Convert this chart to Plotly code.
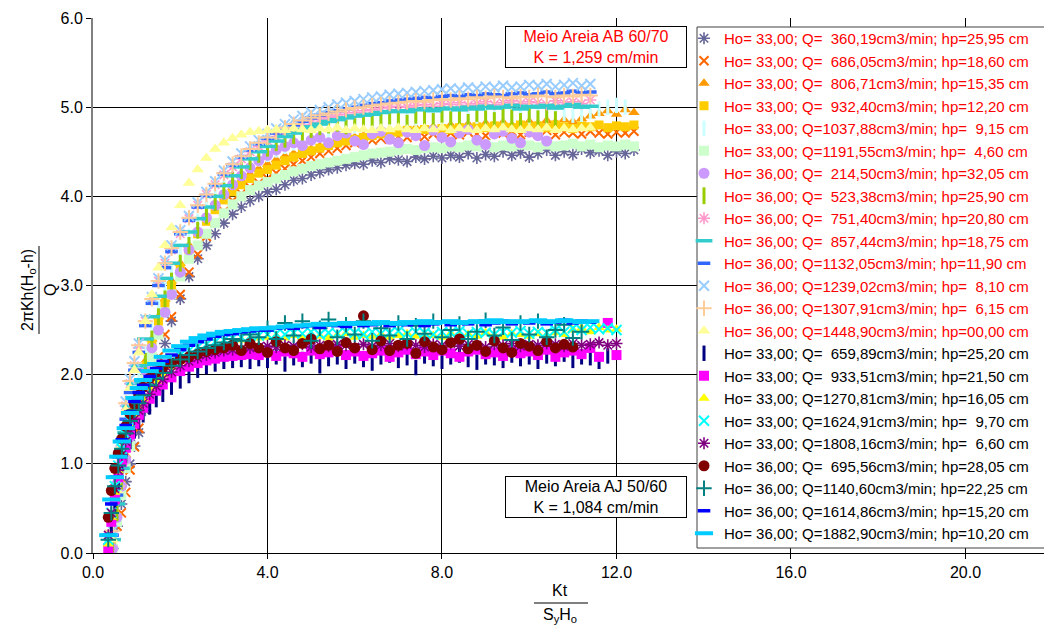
import plotly.graph_objects as go

# ---------------- data ----------------
x_ab = [0.45, 0.55, 0.65, 0.75, 0.85, 0.95, 1.05, 1.2, 1.35, 1.5, 1.65, 1.8, 2.0, 2.2, 2.4, 2.6,
        2.8, 3.0, 3.2, 3.4, 3.6, 3.8, 4.0,
        4.2, 4.4, 4.6, 4.8, 5.0, 5.2, 5.4, 5.6, 5.8, 6.0,
        6.2, 6.4, 6.6, 6.8, 7.0, 7.2, 7.4, 7.6, 7.8, 8.0,
        8.2, 8.4, 8.6, 8.8, 9.0, 9.2, 9.4, 9.6, 9.8, 10.0,
        10.2, 10.4, 10.6, 10.8, 11.0, 11.2, 11.4, 11.6, 11.8, 12.0,
        12.2, 12.4]

y_ab_360 = [0.05, 0.3, 0.55, 0.8, 1.0, 1.2, 1.35, 1.6, 1.85, 2.1, 2.35, 2.6, 2.85, 3.1, 3.3, 3.45,
            3.58, 3.7, 3.8, 3.88, 3.95, 4.0, 4.05,
            4.08, 4.13, 4.18, 4.2, 4.24, 4.27, 4.3, 4.32, 4.35, 4.37,
            4.36, 4.4, 4.38, 4.42, 4.41, 4.39, 4.44, 4.42, 4.45, 4.43,
            4.46, 4.44, 4.48, 4.43, 4.47, 4.45, 4.5, 4.46, 4.49, 4.44,
            4.48, 4.52, 4.46, 4.5, 4.47, 4.53, 4.49, 4.51, 4.46, 4.5,
            4.48, 4.52]
y_ab_686 = [0.1, 0.3, 0.45, 0.68, 0.93, 1.19, 1.4, 1.7, 1.95, 2.2, 2.45, 2.65, 2.9, 3.15, 3.35, 3.55,
            3.7, 3.83, 3.95, 4.03, 4.1, 4.15, 4.2,
            4.26, 4.31, 4.36, 4.4, 4.44, 4.48, 4.51, 4.54, 4.57, 4.6,
            4.62, 4.63, 4.65, 4.64, 4.67, 4.66, 4.69, 4.67, 4.7, 4.68,
            4.71, 4.69, 4.72, 4.7, 4.68, 4.72, 4.71, 4.73, 4.69, 4.72,
            4.7, 4.74, 4.69, 4.72, 4.71, 4.7, 4.73, 4.71, 4.7, 4.72,
            4.71, 4.73]
y_ab_806 = [0.1, 0.45, 0.8, 1.1, 1.4, 1.65, 1.85, 2.15, 2.4, 2.65, 2.85, 3.05, 3.25, 3.45, 3.62, 3.76,
            3.9, 4.01, 4.1, 4.18, 4.25, 4.31, 4.36,
            4.41, 4.45, 4.48, 4.51, 4.53, 4.56, 4.58, 4.61, 4.63, 4.66,
            4.68, 4.69, 4.71, 4.72, 4.74, 4.75, 4.77, 4.76, 4.78, 4.77,
            4.8, 4.79, 4.81, 4.8, 4.82, 4.81, 4.83, 4.8, 4.82, 4.84,
            4.82, 4.85, 4.83, 4.86, 4.84, 4.87, 4.9, 4.93, 4.96, 4.92,
            4.97, 4.94]
y_ab_932 = [0.05, 0.4, 0.75, 1.05, 1.35, 1.6, 1.8, 2.1, 2.35, 2.6, 2.8, 3.0, 3.2, 3.4, 3.58, 3.72,
            3.85, 3.96, 4.05, 4.13, 4.2, 4.26, 4.3,
            4.35, 4.4, 4.44, 4.48, 4.51, 4.54, 4.57, 4.6, 4.62, 4.64,
            4.66, 4.68, 4.7, 4.71, 4.72, 4.74, 4.73, 4.75, 4.74, 4.76,
            4.75, 4.77, 4.76, 4.78, 4.77, 4.79, 4.78, 4.77, 4.8, 4.78,
            4.79, 4.77, 4.8, 4.78, 4.76, 4.79, 4.78, 4.8, 4.77, 4.79,
            4.78, 4.8]
y_ab_1037 = [0.2, 0.55, 0.9, 1.2, 1.5, 1.75, 1.95, 2.25, 2.5, 2.75, 2.95, 3.15, 3.35, 3.55, 3.72, 3.86,
             3.99, 4.1, 4.2, 4.29, 4.36, 4.42, 4.47,
             4.52, 4.56, 4.6, 4.64, 4.67, 4.7, 4.73, 4.75, 4.77, 4.79,
             4.81, 4.82, 4.84, 4.85, 4.86, 4.85, 4.87, 4.88, 4.86, 4.88,
             4.87, 4.89, 4.88, 4.9, 4.89, 4.88, 4.9, 4.91, 4.89, 4.9,
             4.92, 4.9, 4.91, 4.93, 4.91, 4.92, 4.95, 4.98, 5.0, 5.02,
             5.0]
y_ab_1191 = [0.05, 0.35, 0.65, 0.95, 1.2, 1.45, 1.65, 1.95, 2.2, 2.45, 2.7, 2.9, 3.1, 3.3, 3.45, 3.58,
             3.7, 3.81, 3.91, 4.0, 4.07, 4.12, 4.16,
             4.2, 4.24, 4.28, 4.31, 4.34, 4.36, 4.38, 4.4, 4.42, 4.44,
             4.46, 4.48, 4.49, 4.5, 4.52, 4.53, 4.52, 4.54, 4.55, 4.54,
             4.56, 4.55, 4.57, 4.56, 4.58, 4.55, 4.57, 4.56, 4.58, 4.57,
             4.55, 4.58, 4.56, 4.57, 4.59, 4.56, 4.58, 4.55, 4.57, 4.56,
             4.58, 4.56]
y_ab_214 = [0.05, 0.4, 0.75, 1.05, 1.3, 1.55, 1.75, 2.05, 2.3, 2.5, 2.7, 2.9, 3.15, 3.4, 3.6, 3.76,
            3.9, 4.02, 4.13, 4.23, 4.32, 4.4, 4.46,
            4.52, 4.56, 4.6, 4.57, 4.63, 4.66, 4.6, 4.68, 4.71, 4.62,
            4.58, 4.7, 4.73, 4.64, 4.6, 4.72, 4.68, 4.57, 4.74, 4.66,
            4.61, 4.71, 4.75, 4.63, 4.58, 4.7, 4.73, 4.65, 4.6, 4.72,
            4.68, 4.62]
y_ab_523 = [0.1, 0.45, 0.8, 1.1, 1.4, 1.65, 1.85, 2.15, 2.4, 2.65, 2.85, 3.05, 3.25, 3.45, 3.62, 3.78,
            3.93, 4.06, 4.18, 4.29, 4.39, 4.47, 4.54,
            4.6, 4.64, 4.68, 4.72, 4.75, 4.78, 4.8, 4.82, 4.79, 4.85,
            4.83, 4.88, 4.84, 4.9, 4.86, 4.82, 4.91, 4.87, 4.84, 4.92,
            4.86, 4.89, 4.83, 4.93, 4.87, 4.85, 4.91, 4.88, 4.84, 4.92,
            4.87, 4.9, 4.86]
y_ab_751 = [0.2, 0.7, 1.2, 1.65, 1.9, 2.1, 2.3, 2.6, 2.85, 3.05, 3.25, 3.4, 3.58, 3.75, 3.9, 4.02,
            4.13, 4.24, 4.33, 4.42, 4.5, 4.56, 4.62,
            4.67, 4.72, 4.76, 4.8, 4.83, 4.86, 4.88, 4.9, 4.92, 4.94,
            4.96, 4.97, 4.99, 5.0, 5.01, 5.0, 5.02, 5.03, 5.01, 5.04,
            5.03, 5.05, 5.02, 5.04, 5.06, 5.03, 5.05, 5.07, 5.04, 5.06,
            5.05, 5.03, 5.07, 5.05, 5.06, 5.04, 5.08]
y_ab_857 = [0.15, 0.55, 0.95, 1.35, 1.65, 1.9, 2.1, 2.4, 2.65, 2.88, 3.08, 3.25, 3.45, 3.6, 3.75, 3.88,
            4.0, 4.12, 4.23, 4.33, 4.42, 4.5, 4.56,
            4.62, 4.67, 4.71, 4.75, 4.78, 4.81, 4.84, 4.86, 4.88, 4.9,
            4.91, 4.92, 4.94, 4.95, 4.96, 4.95, 4.97, 4.98, 4.96, 4.98,
            4.99, 4.97, 5.0, 4.98, 5.01, 4.99, 5.0, 5.02, 4.98, 5.01,
            5.0, 5.02, 4.99, 5.01, 5.03, 5.0, 5.01]
y_ab_1132 = [0.2, 0.65, 1.1, 1.5, 1.8, 2.05, 2.25, 2.55, 2.8, 3.0, 3.2, 3.38, 3.58, 3.73, 3.88, 4.01,
             4.13, 4.25, 4.35, 4.44, 4.52, 4.59, 4.65,
             4.71, 4.76, 4.8, 4.84, 4.88, 4.91, 4.94, 4.96, 4.98, 5.0,
             5.02, 5.04, 5.05, 5.07, 5.08, 5.09, 5.1, 5.11, 5.1, 5.12,
             5.13, 5.12, 5.14, 5.13, 5.15, 5.14, 5.13, 5.15, 5.16, 5.14,
             5.15, 5.17, 5.15, 5.16, 5.18, 5.16, 5.17]
y_ab_1239 = [0.25, 0.75, 1.25, 1.7, 1.95, 2.15, 2.35, 2.62, 2.87, 3.08, 3.28, 3.45, 3.62, 3.78, 3.93,
             4.05, 4.17, 4.29, 4.39, 4.48, 4.56, 4.63, 4.7,
             4.76, 4.81, 4.86, 4.9, 4.94, 4.97, 5.0, 5.03, 5.05, 5.07,
             5.09, 5.11, 5.12, 5.14, 5.15, 5.16, 5.17, 5.18, 5.19, 5.2,
             5.21, 5.2, 5.22, 5.21, 5.23, 5.22, 5.24, 5.22, 5.23, 5.25,
             5.24, 5.26, 5.23, 5.25, 5.27, 5.24, 5.26]
y_ab_1307 = [0.25, 0.75, 1.25, 1.68, 1.93, 2.13, 2.33, 2.6, 2.85, 3.05, 3.25, 3.42, 3.6, 3.76, 3.9,
             4.02, 4.14, 4.26, 4.36, 4.45, 4.53, 4.6, 4.66,
             4.72, 4.77, 4.81, 4.85, 4.88, 4.91, 4.93, 4.95, 4.97, 4.99,
             5.0, 5.02, 5.03, 5.04, 5.05, 5.06, 5.07, 5.06, 5.08, 5.09,
             5.08, 5.1, 5.09, 5.11, 5.1, 5.12, 5.11, 5.1, 5.12, 5.11,
             5.13, 5.12, 5.11, 5.13, 5.12, 5.14, 5.13]
y_ab_1448 = [0.15, 0.7, 1.2, 1.6, 1.85, 2.05, 2.25, 2.6, 2.9, 3.2, 3.45, 3.65, 3.9, 4.15, 4.3, 4.43,
             4.53, 4.6, 4.65, 4.69, 4.72, 4.73, 4.74,
             4.75, 4.74, 4.76, 4.75, 4.74, 4.76, 4.75, 4.77, 4.74, 4.76,
             4.75, 4.74, 4.76, 4.75, 4.77, 4.75, 4.74, 4.76, 4.75, 4.77,
             4.74, 4.76, 4.75, 4.74, 4.76, 4.75, 4.77, 4.75, 4.74, 4.76,
             4.75, 4.77, 4.74, 4.76, 4.75, 4.76, 4.77]

x_aj = [0.35, 0.42, 0.5, 0.58, 0.66, 0.75, 0.85, 0.95, 1.05, 1.15, 1.3, 1.45, 1.6, 1.8, 2.0, 2.2,
        2.4, 2.6, 2.8, 3.0, 3.2, 3.4, 3.6, 3.8,
        4.0, 4.2, 4.4, 4.6, 4.8, 5.0, 5.2, 5.4, 5.6, 5.8,
        6.0, 6.2, 6.4, 6.6, 6.8, 7.0, 7.2, 7.4, 7.6, 7.8,
        8.0, 8.2, 8.4, 8.6, 8.8, 9.0, 9.2, 9.4, 9.6, 9.8,
        10.0, 10.2, 10.4, 10.6, 10.8, 11.0, 11.2, 11.4, 11.6, 11.8,
        12.0]

y_aj_659 = [0.05, 0.3, 0.55, 0.78, 0.95, 1.1, 1.25, 1.37, 1.47, 1.55, 1.64, 1.72, 1.78, 1.86, 1.93,
            1.99, 2.05, 2.09, 2.12, 2.15, 2.16, 2.17, 2.15, 2.18,
            2.16, 2.2, 2.12, 2.19, 2.17, 2.21, 2.1, 2.18, 2.2, 2.15,
            2.21, 2.17, 2.13, 2.2, 2.22, 2.16, 2.19, 2.08, 2.21, 2.18,
            2.15, 2.2, 2.22, 2.17, 2.14, 2.2, 2.19, 2.16, 2.22, 2.18,
            2.2, 2.15, 2.21, 2.18, 2.23, 2.16, 2.2, 2.19, 2.15, 2.21]
y_aj_933 = [0.05, 0.35, 0.6, 0.85, 1.02, 1.18, 1.33, 1.45, 1.55, 1.63, 1.73, 1.82, 1.89, 1.97, 2.04,
            2.09, 2.13, 2.16, 2.18, 2.2, 2.21, 2.22, 2.23, 2.22,
            2.25, 2.21, 2.26, 2.24, 2.2, 2.27, 2.23, 2.25, 2.28, 2.22,
            2.26, 2.21, 2.24, 2.27, 2.2, 2.25, 2.28, 2.23, 2.26, 2.22,
            2.27, 2.24, 2.2, 2.26, 2.28, 2.23, 2.25, 2.21, 2.27, 2.24,
            2.26, 2.22, 2.28, 2.2, 2.25, 2.27, 2.23, 2.3, 2.2, 2.58,
            2.22]
y_aj_1270 = [0.1, 0.4, 0.68, 0.92, 1.1, 1.27, 1.42, 1.55, 1.65, 1.73, 1.85, 1.93, 2.0, 2.08, 2.15,
             2.2, 2.25, 2.29, 2.32, 2.35, 2.37, 2.39, 2.4, 2.41,
             2.42, 2.43, 2.41, 2.44, 2.42, 2.45, 2.43, 2.41, 2.44, 2.46,
             2.42, 2.44, 2.43, 2.45, 2.42, 2.44, 2.46, 2.43, 2.45, 2.44,
             2.42, 2.46, 2.44, 2.45, 2.43, 2.47, 2.44, 2.42, 2.46, 2.45,
             2.43, 2.46, 2.44, 2.47, 2.45, 2.5, 2.52, 2.48, 2.53, 2.5,
             2.51]
y_aj_1624 = [0.15, 0.45, 0.75, 0.98, 1.17, 1.33, 1.48, 1.6, 1.72, 1.8, 1.92, 2.01, 2.08, 2.16, 2.22,
             2.27, 2.31, 2.34, 2.37, 2.39, 2.41, 2.42, 2.43, 2.44,
             2.45, 2.46, 2.45, 2.47, 2.46, 2.48, 2.45, 2.47, 2.46, 2.48,
             2.47, 2.45, 2.48, 2.46, 2.47, 2.49, 2.46, 2.48, 2.47, 2.45,
             2.48, 2.47, 2.49, 2.46, 2.48, 2.47, 2.45, 2.48, 2.47, 2.49,
             2.46, 2.48, 2.47, 2.5, 2.48, 2.52, 2.5, 2.53, 2.51, 2.52,
             2.5]
y_aj_1808 = [0.2, 0.45, 0.72, 0.93, 1.1, 1.25, 1.38, 1.5, 1.6, 1.68, 1.78, 1.87, 1.95, 2.03, 2.1,
             2.15, 2.19, 2.22, 2.25, 2.27, 2.28, 2.29, 2.3, 2.31,
             2.32, 2.31, 2.33, 2.32, 2.34, 2.31, 2.33, 2.32, 2.34, 2.33,
             2.31, 2.34, 2.32, 2.33, 2.35, 2.32, 2.34, 2.33, 2.31, 2.34,
             2.33, 2.35, 2.32, 2.34, 2.33, 2.31, 2.34, 2.33, 2.35, 2.32,
             2.34, 2.33, 2.35, 2.34, 2.32, 2.35, 2.33, 2.34, 2.36, 2.33,
             2.35]
y_aj_695 = [0.4, 0.7, 0.95, 1.12, 1.28, 1.42, 1.56, 1.67, 1.77, 1.86, 1.96, 2.03, 2.08, 2.13, 2.17,
            2.2, 2.23, 2.26, 2.28, 2.3, 2.33, 2.27, 2.35, 2.3,
            2.25, 2.37, 2.3, 2.27, 2.35, 2.4, 2.29, 2.33, 2.26, 2.36,
            2.3, 2.66, 2.28, 2.38, 2.27, 2.33, 2.35, 2.24, 2.37, 2.31,
            2.28, 2.36, 2.4, 2.29, 2.33, 2.26, 2.38, 2.3, 2.25, 2.35,
            2.32, 2.27, 2.37, 2.3, 2.34, 2.31]
y_aj_1140 = [0.15, 0.45, 0.75, 0.98, 1.17, 1.34, 1.48, 1.6, 1.68, 1.77, 1.88, 1.96, 2.02, 2.1, 2.17,
             2.22, 2.26, 2.3, 2.33, 2.36, 2.4, 2.38, 2.45, 2.42,
             2.52, 2.4, 2.58, 2.44, 2.6, 2.38, 2.52, 2.62, 2.42, 2.56,
             2.45, 2.6, 2.38, 2.52, 2.44, 2.58, 2.4, 2.55, 2.46, 2.6,
             2.42, 2.5, 2.57, 2.4, 2.48, 2.61, 2.44, 2.53, 2.39, 2.58,
             2.45, 2.6, 2.42, 2.5, 2.56, 2.41, 2.48]
y_aj_1614 = [0.2, 0.55, 0.85, 1.08, 1.27, 1.43, 1.58, 1.7, 1.8, 1.88, 1.98, 2.07, 2.15, 2.22, 2.28,
             2.33, 2.37, 2.4, 2.43, 2.45, 2.46, 2.48, 2.49, 2.5,
             2.5, 2.52, 2.53, 2.52, 2.54, 2.55, 2.53, 2.56, 2.55, 2.54,
             2.57, 2.55, 2.56, 2.58, 2.55, 2.57, 2.56, 2.58, 2.55, 2.57,
             2.59, 2.56, 2.58, 2.57, 2.59, 2.56, 2.58, 2.6, 2.57, 2.59,
             2.58, 2.6, 2.57, 2.59, 2.61, 2.58, 2.6, 2.59]
y_aj_1882 = [0.2, 0.6, 0.85, 1.08, 1.25, 1.4, 1.57, 1.74, 1.85, 1.94, 2.04, 2.12, 2.2, 2.27, 2.32,
             2.37, 2.41, 2.44, 2.46, 2.48, 2.49, 2.5, 2.51, 2.52,
             2.52, 2.53, 2.54, 2.55, 2.55, 2.56, 2.57, 2.56, 2.57, 2.58,
             2.57, 2.58, 2.57, 2.59, 2.58, 2.57, 2.59, 2.58, 2.6, 2.58,
             2.59, 2.6, 2.58, 2.59, 2.6, 2.59, 2.61, 2.59, 2.6, 2.59,
             2.6, 2.61, 2.59, 2.6, 2.61, 2.6, 2.59, 2.6]

NB = "\u00a0\u00a0"
labels_ab = [
    "Ho= 33,00; Q=" + NB + "360,19cm3/min; hp=25,95 cm",
    "Ho= 33,00; Q=" + NB + "686,05cm3/min; hp=18,60 cm",
    "Ho= 33,00; Q=" + NB + "806,71cm3/min; hp=15,35 cm",
    "Ho= 33,00; Q=" + NB + "932,40cm3/min; hp=12,20 cm",
    "Ho= 33,00; Q=1037,88cm3/min; hp=" + NB + "9,15 cm",
    "Ho= 33,00; Q=1191,55cm3/min; hp=" + NB + "4,60 cm",
    "Ho= 36,00; Q=" + NB + "214,50cm3/min; hp=32,05 cm",
    "Ho= 36,00; Q=" + NB + "523,38cm3/min; hp=25,90 cm",
    "Ho= 36,00; Q=" + NB + "751,40cm3/min; hp=20,80 cm",
    "Ho= 36,00; Q=" + NB + "857,44cm3/min; hp=18,75 cm",
    "Ho= 36,00; Q=1132,05cm3/min; hp=11,90 cm",
    "Ho= 36,00; Q=1239,02cm3/min; hp=" + NB + "8,10 cm",
    "Ho= 36,00; Q=1307,91cm3/min; hp=" + NB + "6,15 cm",
    "Ho= 36,00; Q=1448,90cm3/min; hp=00,00 cm",
]
labels_aj = [
    "Ho= 33,00; Q=" + NB + "659,89cm3/min; hp=25,20 cm",
    "Ho= 33,00; Q=" + NB + "933,51cm3/min; hp=21,50 cm",
    "Ho= 33,00; Q=1270,81cm3/min; hp=16,05 cm",
    "Ho= 33,00; Q=1624,91cm3/min; hp=" + NB + "9,70 cm",
    "Ho= 33,00; Q=1808,16cm3/min; hp=" + NB + "6,60 cm",
    "Ho= 36,00; Q=" + NB + "695,56cm3/min; hp=28,05 cm",
    "Ho= 36,00; Q=1140,60cm3/min; hp=22,25 cm",
    "Ho= 36,00; Q=1614,86cm3/min; hp=15,20 cm",
    "Ho= 36,00; Q=1882,90cm3/min; hp=10,20 cm",
]

series_ab = [y_ab_360, y_ab_686, y_ab_806, y_ab_932, y_ab_1037, y_ab_1191, y_ab_214,
             y_ab_523, y_ab_751, y_ab_857, y_ab_1132, y_ab_1239, y_ab_1307, y_ab_1448]
series_aj = [y_aj_659, y_aj_933, y_aj_1270, y_aj_1624, y_aj_1808, y_aj_695, y_aj_1140,
             y_aj_1614, y_aj_1882]

# ---------------- styles ----------------
# (symbol, color, size, line width)
style_ab = [
    ("asterisk-open", "#666699", 10, 1.6),
    ("x-thin-open", "#FF6600", 9, 2),
    ("triangle-up", "#FF9900", 10, 0),
    ("square", "#FFCC00", 9, 0),
    ("line-ns-open", "#CCFFFF", 11, 3),
    ("square", "#CCFFCC", 10, 0),
    ("circle", "#CC99FF", 11, 0),
    ("line-ns-open", "#99CC00", 12, 3),
    ("asterisk-open", "#FF99CC", 10, 1.6),
    ("line-ew-open", "#33CCCC", 12, 3.5),
    ("line-ew-open", "#3366FF", 9, 3.5),
    ("x-thin-open", "#99CCFF", 10, 2),
    ("cross-thin-open", "#FFCC99", 11, 2),
    ("triangle-up", "#FFFF99", 11, 0),
]
style_aj = [
    ("line-ns-open", "#000080", 11, 3),
    ("square", "#FF00FF", 10, 0),
    ("triangle-up", "#FFFF00", 10, 0),
    ("x-thin-open", "#00FFFF", 10, 2),
    ("asterisk-open", "#800080", 10, 1.6),
    ("circle", "#800000", 11, 0),
    ("cross-thin-open", "#008080", 11, 2),
    ("line-ew-open", "#0000FF", 9, 3.5),
    ("line-ew-open", "#00CCFF", 13, 4),
]

FONT = "Arial, Liberation Sans, sans-serif"
fig = go.Figure()


def add_group(xs, ys_list, labels, styles, text_color):
    for ys, lab, (sym, col, size, lw) in zip(ys_list, labels, styles):
        n = min(len(xs), len(ys))
        marker = dict(symbol=sym, color=col, size=size)
        if lw > 0:
            marker["line"] = dict(color=col, width=lw)
        else:
            marker["line"] = dict(width=0)
        fig.add_trace(go.Scatter(
            x=xs[:n], y=ys[:n], mode="markers", marker=marker,
            name='<span style="color:%s">%s</span>' % (text_color, lab),
        ))


add_group(x_ab, series_ab, labels_ab, style_ab, "#FF0000")
add_group(x_aj, series_aj, labels_aj, style_aj, "#000000")

L, T, W, H = 93, 18, 1044, 626
pw, ph = W - L, 553 - T


def px(xp):
    return (xp - L) / pw


def py(yp):
    return (553 - yp) / ph


fig.update_layout(
    width=W, height=H,
    margin=dict(l=L, r=0, t=T, b=H - 553),
    paper_bgcolor="white", plot_bgcolor="white",
    font=dict(family=FONT, size=16, color="black"),
    showlegend=True,
    legend=dict(
        x=px(684), y=py(22), xanchor="left", yanchor="top",
        bgcolor="rgba(0,0,0,0)", borderwidth=0,
        font=dict(family=FONT, size=15, color="black"),
        itemsizing="trace", tracegroupgap=0,
    ),
    xaxis=dict(
        range=[0, 21.8], tickvals=[0, 4, 8, 12, 16, 20], tickformat=".1f",
        showgrid=True, gridcolor="black", gridwidth=1,
        showline=True, linecolor="black", linewidth=1,
        ticks="outside", ticklen=5, tickcolor="black",
        zeroline=False, tickfont=dict(size=16),
    ),
    yaxis=dict(
        range=[0, 6], tickvals=[0, 1, 2, 3, 4, 5, 6], tickformat=".1f",
        showgrid=True, gridcolor="black", gridwidth=1,
        showline=True, linecolor="#808080", linewidth=2,
        ticks="outside", ticklen=5, tickcolor="black",
        zeroline=False, tickfont=dict(size=16),
    ),
)

# legend frame (drawn above the grid, below the legend entries)
fig.add_shape(type="rect", xref="paper", yref="paper",
              x0=px(697), x1=px(1050), y0=py(548), y1=py(27),
              line=dict(color="#404040", width=1), fillcolor="white", layer="above")

# text boxes
fig.add_annotation(xref="paper", yref="paper", x=px(596), y=py(47),
                   xanchor="center", yanchor="middle",
                   text="Meio Areia AB 60/70<br>K = 1,259 cm/min", showarrow=False,
                   font=dict(family=FONT, size=16, color="#FF0000"),
                   bgcolor="white", bordercolor="black", borderwidth=1, borderpad=1,
                   width=178, align="center")
fig.add_annotation(xref="paper", yref="paper", x=px(596), y=py(497),
                   xanchor="center", yanchor="middle",
                   text="Meio Areia AJ 50/60<br>K = 1,084 cm/min", showarrow=False,
                   font=dict(family=FONT, size=16, color="black"),
                   bgcolor="white", bordercolor="black", borderwidth=1, borderpad=1,
                   width=178, align="center")

# y-axis fraction title
fig.add_annotation(xref="paper", yref="paper", x=px(28), y=py(290),
                   xanchor="center", yanchor="middle",
                   text="2πKh(H<sub>o</sub>-h)", textangle=-90, showarrow=False,
                   font=dict(family=FONT, size=16, color="black"))
fig.add_shape(type="line", xref="paper", yref="paper",
              x0=px(39), x1=px(39), y0=py(334), y1=py(246),
              line=dict(color="black", width=1))
fig.add_annotation(xref="paper", yref="paper", x=px(50), y=py(290),
                   xanchor="center", yanchor="middle",
                   text="Q", textangle=-90, showarrow=False,
                   font=dict(family=FONT, size=16, color="black"))

# x-axis fraction title
fig.add_annotation(xref="paper", yref="paper", x=px(560), y=py(590),
                   xanchor="center", yanchor="middle",
                   text="Kt", showarrow=False,
                   font=dict(family=FONT, size=16, color="black"))
fig.add_shape(type="line", xref="paper", yref="paper",
              x0=px(534), x1=px(588), y0=py(603), y1=py(603),
              line=dict(color="black", width=1))
fig.add_annotation(xref="paper", yref="paper", x=px(560), y=py(615),
                   xanchor="center", yanchor="middle",
                   text="S<sub>y</sub>H<sub>o</sub>", showarrow=False,
                   font=dict(family=FONT, size=16, color="black"))

fig.write_html("out.html")
